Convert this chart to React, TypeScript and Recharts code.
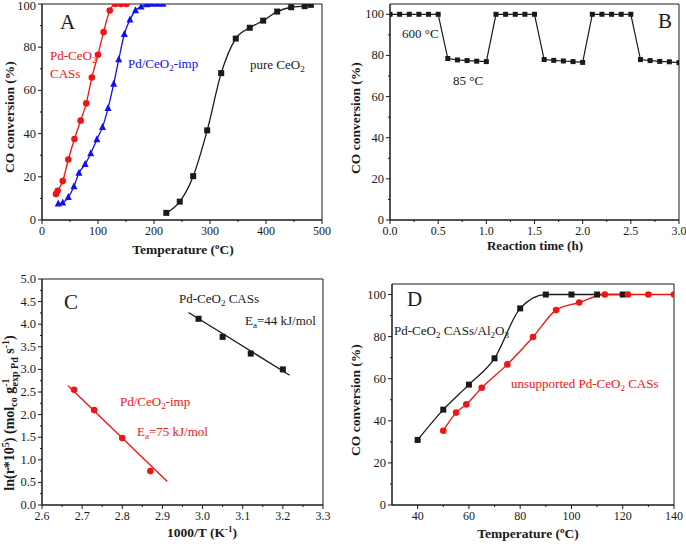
import { LineChart, Line, XAxis, YAxis, ReferenceArea } from 'recharts'

const FONT = 'Liberation Serif, Tinos, Times New Roman, Times, Nimbus Roman, serif'
const RED = '#f01414'
const BLUE = '#1010f0'
const INK = '#1a1a1a'

// ---- panel A: light-off curves
const aCasTemp = [25, 28, 37, 47, 58, 69, 79, 89, 100, 110, 121, 131, 141, 151]
const aCasConv = [12, 13.5, 18, 28, 37.5, 46, 54, 66, 76.5, 87, 97, 100, 100, 100]
const aImpTemp = [29, 37, 47, 57, 66, 77, 87, 98, 108, 118, 128, 137, 147, 157, 167, 177, 187, 196, 206, 216]
const aImpConv = [7.5, 8, 10.5, 15.5, 21.8, 25.8, 30.8, 37.3, 43, 51.8, 63, 74.3, 86, 92.7, 97, 98.7, 99.8, 100, 100, 100]
const aCeoTemp = [222, 246, 270, 295, 320, 346, 371, 395, 420, 445, 469, 480]
const aCeoConv = [3.3, 8.5, 20.3, 41.5, 68, 84, 89, 92.3, 96.5, 98.5, 99, 99.6]

// ---- panel B: temperature cycling
const bTime = [0, 0.1, 0.2, 0.3, 0.4, 0.5, 0.6, 0.7, 0.8, 0.9, 1.0, 1.1, 1.2, 1.3, 1.4, 1.5, 1.6, 1.7, 1.8, 1.9, 2.0, 2.1, 2.2, 2.3, 2.4, 2.5, 2.6, 2.7, 2.8, 2.9, 3.0]
const bConv = [100, 100, 100, 100, 100, 100, 78.5, 77.8, 77.5, 77.2, 77, 100, 100, 100, 100, 100, 78, 77.6, 77.3, 77, 76.6, 100, 100, 100, 100, 100, 78, 77.5, 77.1, 76.9, 76.5]

// ---- panel C: Arrhenius plots
const cCasInvT = [2.99, 3.05, 3.12, 3.2]
const cCasLnR = [4.12, 3.72, 3.35, 3.0]
const cCasFitX = [2.965, 3.217]
const cCasFitY = [4.26, 2.87]
const cImpInvT = [2.68, 2.73, 2.8, 2.87]
const cImpLnR = [2.55, 2.1, 1.48, 0.75]
const cImpFitX = [2.665, 2.912]
const cImpFitY = [2.64, 0.52]

// ---- panel D: supported vs unsupported
const dAlTemp = [40, 50, 60, 70, 80, 90, 100, 110, 120]
const dAlConv = [30.9, 45.3, 57.2, 69.7, 93.4, 100, 100, 100, 100]
const dUnTemp = [50, 55, 59, 65, 75, 85, 94, 103, 113, 122, 130, 140]
const dUnConv = [35.3, 43.9, 47.8, 55.7, 66.8, 79.8, 92.6, 96.2, 100, 100, 100, 100]

// ---- ticks
const aXMajor = [0, 100, 200, 300, 400, 500]
const aXMinor = [50, 150, 250, 350, 450]
const convMajor = [0, 20, 40, 60, 80, 100]
const convMinor = [10, 30, 50, 70, 90]
const bXMajor = [0, 0.5, 1.0, 1.5, 2.0, 2.5, 3.0]
const bXMinor = [0.25, 0.75, 1.25, 1.75, 2.25, 2.75]
const cXMajor = [2.6, 2.7, 2.8, 2.9, 3.0, 3.1, 3.2, 3.3]
const cXMinor = [2.65, 2.75, 2.85, 2.95, 3.05, 3.15, 3.25]
const cYMajor = [0, 0.5, 1.0, 1.5, 2.0, 2.5, 3.0, 3.5, 4.0, 4.5, 5.0]
const cYMinor = [0.25, 0.75, 1.25, 1.75, 2.25, 2.75, 3.25, 3.75, 4.25, 4.75]
const dXMajor = [40, 60, 80, 100, 120, 140]
const dXMinor = [50, 70, 90, 110, 130]

const pts = (xs: number[], ys: number[]) => xs.map((x, i) => ({ x, y: ys[i] }))

const bottomTick = (majors: number[], digits: number) => (p: any) => {
  const { x, y, payload } = p
  const major = majors.includes(payload.value)
  return (
    <g>
      <line x1={x} x2={x} y1={y} y2={y + (major ? 4 : 2)} stroke={INK} />
      {major && (
        <text x={x} y={y + 15} textAnchor="middle" fontSize={12} fontFamily={FONT} fill={INK}>
          {payload.value.toFixed(digits)}
        </text>
      )}
    </g>
  )
}

const leftTick = (majors: number[], digits: number) => (p: any) => {
  const { x, y, payload } = p
  const major = majors.includes(payload.value)
  return (
    <g>
      <line x1={x} x2={x - (major ? 4 : 2)} y1={y} y2={y} stroke={INK} />
      {major && (
        <text x={x - 6} y={Math.max(y + 4, 9.5)} textAnchor="end" fontSize={12.5} fontFamily={FONT} fill={INK}>
          {payload.value.toFixed(digits)}
        </text>
      )}
    </g>
  )
}

const square = (size: number, color: string) => (p: any) => (
  <rect key={p.index} x={p.cx - size / 2} y={p.cy - size / 2} width={size} height={size} fill={color} />
)
const circle = (r: number, color: string) => (p: any) => (
  <circle key={p.index} cx={p.cx} cy={p.cy} r={r} fill={color} />
)
const triangle = (s: number, color: string) => (p: any) => (
  <polygon
    key={p.index}
    points={`${p.cx},${p.cy - s * 0.6} ${p.cx - s / 2},${p.cy + s * 0.4} ${p.cx + s / 2},${p.cy + s * 0.4}`}
    fill={color}
  />
)

function Panel(props: any) {
  const { left, top, w, h, plot, xDomain, yDomain, xMajor, xMinor, yMajor, yMinor, xDigits, yDigits, children } = props
  return (
    <div style={{ position: 'absolute', left, top }}>
      <LineChart width={w} height={h} margin={{ top: plot.t, right: w - plot.r, bottom: 0, left: 0 }}>
        <XAxis
          type="number"
          dataKey="x"
          domain={xDomain}
          allowDataOverflow
          ticks={[...xMajor, ...xMinor]}
          interval={0}
          tickLine={false}
          tickSize={0}
          tickMargin={0}
          tick={bottomTick(xMajor, xDigits)}
          height={h - plot.b}
          axisLine={{ stroke: INK }}
        />
        <YAxis
          type="number"
          domain={yDomain}
          allowDataOverflow
          ticks={[...yMajor, ...yMinor]}
          interval={0}
          tickLine={false}
          tickSize={0}
          tickMargin={0}
          tick={leftTick(yMajor, yDigits)}
          width={plot.l}
          axisLine={{ stroke: INK }}
        />
        <ReferenceArea
          x1={xDomain[0]}
          x2={xDomain[1]}
          y1={yDomain[0]}
          y2={yDomain[1]}
          fill="none"
          stroke={INK}
          strokeWidth={1}
          ifOverflow="visible"
        />
        {children}
      </LineChart>
    </div>
  )
}

const sub = (t: string, size = 9) => [
  <tspan key="a" dy={3} fontSize={size}>{t}</tspan>,
  <tspan key="b" dy={-3}>{'\u200a'}</tspan>,
]

export default function App() {
  const txt = { fontFamily: FONT, fontSize: 13 }
  const title = { fontFamily: FONT, fontSize: 13.5, fontWeight: 700, fill: INK }
  return (
    <div style={{ position: 'absolute', left: 0, top: 0, width: 686, height: 544, background: '#fff', fontFamily: FONT }}>
      <Panel
        left={0} top={0} w={343} h={272}
        plot={{ l: 42, t: 4, r: 322, b: 220 }}
        xDomain={[0, 500]} yDomain={[0, 100]}
        xMajor={aXMajor} xMinor={aXMinor} yMajor={convMajor} yMinor={convMinor}
        xDigits={0} yDigits={0}
      >
        <Line data={pts(aCasTemp, aCasConv)} dataKey="y" type="monotone" stroke={RED} strokeWidth={1.3} dot={circle(3.3, RED)} isAnimationActive={false} />
        <Line data={pts(aImpTemp, aImpConv)} dataKey="y" type="monotone" stroke={BLUE} strokeWidth={1.3} dot={triangle(7, BLUE)} isAnimationActive={false} />
        <Line data={pts(aCeoTemp, aCeoConv)} dataKey="y" type="monotone" stroke={INK} strokeWidth={1.3} dot={square(6, INK)} isAnimationActive={false} />
      </Panel>

      <Panel
        left={343} top={0} w={343} h={272}
        plot={{ l: 47, t: 4, r: 336, b: 220 }}
        xDomain={[0, 3]} yDomain={[0, 105]}
        xMajor={bXMajor} xMinor={bXMinor} yMajor={convMajor} yMinor={convMinor}
        xDigits={1} yDigits={0}
      >
        <Line data={pts(bTime, bConv)} dataKey="y" type="linear" stroke={INK} strokeWidth={1.2} dot={square(5, INK)} isAnimationActive={false} />
      </Panel>

      <Panel
        left={0} top={272} w={343} h={272}
        plot={{ l: 42, t: 7, r: 323, b: 233 }}
        xDomain={[2.6, 3.3]} yDomain={[0, 5]}
        xMajor={cXMajor} xMinor={cXMinor} yMajor={cYMajor} yMinor={cYMinor}
        xDigits={1} yDigits={1}
      >
        <Line data={pts(cCasFitX, cCasFitY)} dataKey="y" type="linear" stroke={INK} strokeWidth={1.3} dot={false} isAnimationActive={false} />
        <Line data={pts(cImpFitX, cImpFitY)} dataKey="y" type="linear" stroke={RED} strokeWidth={1.3} dot={false} isAnimationActive={false} />
        <Line data={pts(cCasInvT, cCasLnR)} dataKey="y" stroke="none" dot={square(6, INK)} isAnimationActive={false} />
        <Line data={pts(cImpInvT, cImpLnR)} dataKey="y" stroke="none" dot={circle(3.3, RED)} isAnimationActive={false} />
      </Panel>

      <Panel
        left={343} top={272} w={343} h={272}
        plot={{ l: 49, t: 12, r: 331, b: 233 }}
        xDomain={[30, 140]} yDomain={[0, 105]}
        xMajor={dXMajor} xMinor={dXMinor} yMajor={convMajor} yMinor={convMinor}
        xDigits={0} yDigits={0}
      >
        <Line data={pts(dAlTemp, dAlConv)} dataKey="y" type="monotone" stroke={INK} strokeWidth={1.3} dot={square(6, INK)} isAnimationActive={false} />
        <Line data={pts(dUnTemp, dUnConv)} dataKey="y" type="monotone" stroke={RED} strokeWidth={1.3} dot={circle(3.3, RED)} isAnimationActive={false} />
      </Panel>

      <svg width={686} height={544} style={{ position: 'absolute', left: 0, top: 0, pointerEvents: 'none' }}>
        {/* panel A */}
        <text x={60} y={29} fontFamily={FONT} fontSize={21} fill={INK}>A</text>
        <text x={50} y={60} {...txt} fill={RED}>Pd-CeO{sub('2')}</text>
        <text x={50} y={78} {...txt} fill={RED}>CASs</text>
        <text x={128} y={68} {...txt} fill={BLUE}>Pd/CeO<tspan dy={3} fontSize={9}>2</tspan><tspan dy={-3}>-imp</tspan></text>
        <text x={250} y={69} {...txt} fill={INK}>pure CeO{sub('2')}</text>
        <text x={183} y={254} textAnchor="middle" {...title}>
          Temperature (<tspan dy={-5} fontSize={9}>o</tspan><tspan dy={5}>C)</tspan>
        </text>
        <text transform="translate(14,117) rotate(-90)" textAnchor="middle" {...title}>CO conversion (%)</text>

        {/* panel B */}
        <text x={658} y={28} fontFamily={FONT} fontSize={21} fill={INK}>B</text>
        <text x={402} y={38} {...txt} fill={INK}>600 °C</text>
        <text x={453} y={85} {...txt} fill={INK}>85 °C</text>
        <text x={535} y={250} textAnchor="middle" {...title} fontSize={13}>Reaction time (h)</text>
        <text transform="translate(360,118) rotate(-90)" textAnchor="middle" {...title}>CO conversion (%)</text>

        {/* panel C */}
        <text x={64} y={309} fontFamily={FONT} fontSize={21} fill={INK}>C</text>
        <text x={179} y={303} {...txt} fill={INK}>Pd-CeO<tspan dy={3} fontSize={9}>2</tspan><tspan dy={-3}> CASs</tspan></text>
        <text x={245} y={325} {...txt} fill={INK}>E<tspan dy={3} fontSize={9}>a</tspan><tspan dy={-3}>=44 kJ/mol</tspan></text>
        <text x={120} y={406} {...txt} fill={RED}>Pd/CeO<tspan dy={3} fontSize={9}>2</tspan><tspan dy={-3}>-imp</tspan></text>
        <text x={137} y={436} {...txt} fill={RED}>E<tspan dy={3} fontSize={9}>a</tspan><tspan dy={-3}>=75 kJ/mol</tspan></text>
        <text x={202} y={537} textAnchor="middle" {...title}>
          1000/T (K<tspan dy={-5} fontSize={9}>-1</tspan><tspan dy={5}>)</tspan>
        </text>
        <text transform="translate(14,413) rotate(-90)" textAnchor="middle" {...title} fontSize={14}>
          ln(r*10<tspan dy={-5} fontSize={10}>5</tspan><tspan dy={5}>) (mol</tspan>
          <tspan dy={3} fontSize={10}>co</tspan>
          <tspan dy={-3}> g</tspan>
          <tspan dy={-5} fontSize={10}>-1</tspan>
          <tspan dx={-8} dy={9} fontSize={10}>exp Pd</tspan>
          <tspan dy={-4}> s</tspan>
          <tspan dy={-5} fontSize={10}>-1</tspan>
          <tspan dy={5}>)</tspan>
        </text>

        {/* panel D */}
        <text x={407} y={306} fontFamily={FONT} fontSize={21} fill={INK}>D</text>
        <text x={394} y={335} {...txt} fill={INK}>
          Pd-CeO<tspan dy={3} fontSize={9}>2</tspan><tspan dy={-3}> CASs/Al</tspan>
          <tspan dy={3} fontSize={9}>2</tspan><tspan dy={-3}>O</tspan><tspan dy={3} fontSize={9}>3</tspan>
        </text>
        <text x={511} y={388} {...txt} fill={RED}>
          unsupported Pd-CeO<tspan dy={3} fontSize={9}>2</tspan><tspan dy={-3}> CASs</tspan>
        </text>
        <text x={528} y={538} textAnchor="middle" {...title}>
          Temperature (<tspan dy={-5} fontSize={9}>o</tspan><tspan dy={5}>C)</tspan>
        </text>
        <text transform="translate(360,400) rotate(-90)" textAnchor="middle" {...title}>CO conversion (%)</text>
      </svg>
    </div>
  )
}
